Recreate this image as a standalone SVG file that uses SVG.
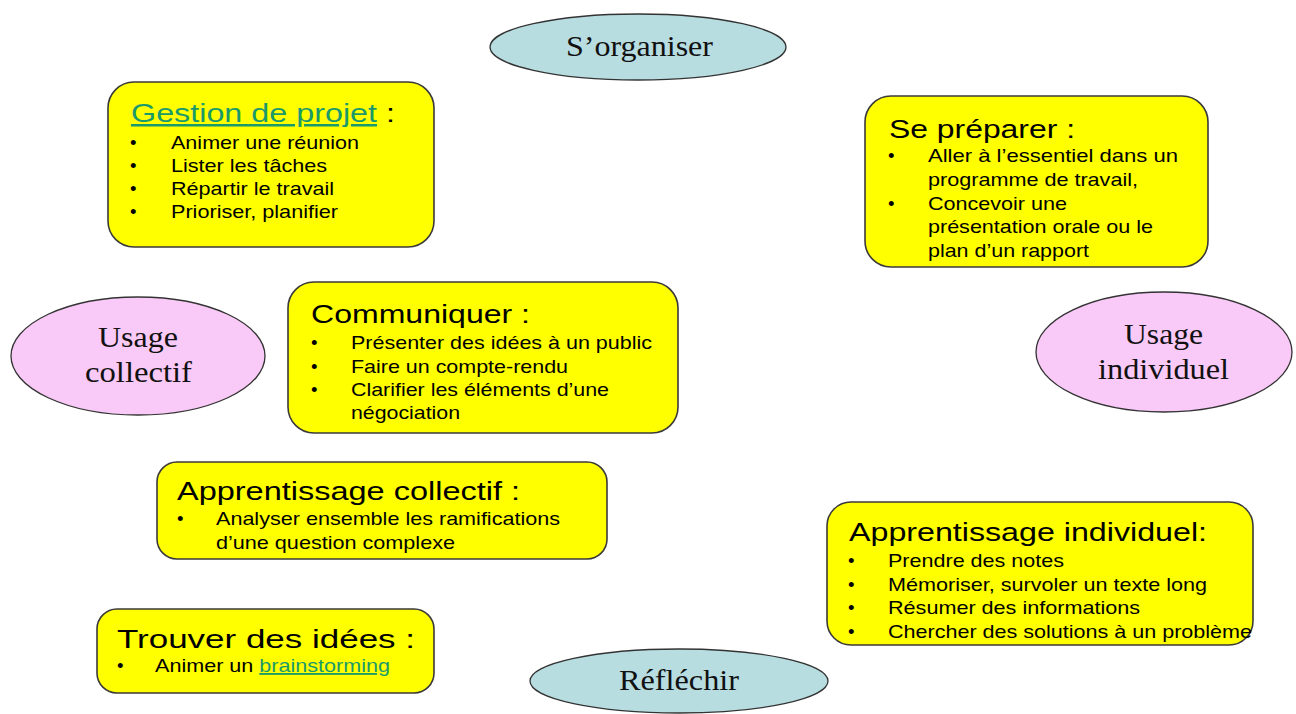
<svg xmlns="http://www.w3.org/2000/svg" width="1296" height="714" viewBox="0 0 1296 714">
<style>
.box{fill:#ffff00;stroke:#3a3a3a;stroke-width:1.6}
.ell-b{fill:#b7dde1;stroke:#333;stroke-width:1.3}
.ell-p{fill:#f9c9f7;stroke:#333;stroke-width:1.3}
.et{font-family:"Liberation Serif",serif;font-size:30px;fill:#111}
.ti{font-family:"Liberation Sans",sans-serif;font-size:25px;fill:#000}
.li{font-family:"Liberation Sans",sans-serif;font-size:18.5px;fill:#000}
.lk{fill:#1a9a6a;text-decoration:underline}
</style>
<rect width="1296" height="714" fill="#ffffff"/>
<g id="connectors"/>
<g id="sorganiser">
<ellipse class="ell-b" cx="638" cy="47" rx="148" ry="33"/>
<text class="et" x="566" y="56" textLength="147" lengthAdjust="spacingAndGlyphs">S’organiser</text>
</g>
<g id="gestion">
<rect class="box" x="108" y="82" width="326" height="165" rx="26"/>
<text class="ti" x="131" y="122" textLength="264" lengthAdjust="spacingAndGlyphs"><tspan class="lk">Gestion de projet</tspan> :</text>
<text class="li" x="130" y="149">•</text><text class="li" x="171" y="149" textLength="188" lengthAdjust="spacingAndGlyphs">Animer une réunion</text>
<text class="li" x="130" y="172">•</text><text class="li" x="171" y="172" textLength="156" lengthAdjust="spacingAndGlyphs">Lister les tâches</text>
<text class="li" x="130" y="195">•</text><text class="li" x="171" y="195" textLength="163" lengthAdjust="spacingAndGlyphs">Répartir le travail</text>
<text class="li" x="130" y="218">•</text><text class="li" x="171" y="218" textLength="167" lengthAdjust="spacingAndGlyphs">Prioriser, planifier</text>
</g>
<g id="preparer">
<rect class="box" x="865" y="96" width="343" height="171" rx="26"/>
<text class="ti" x="889" y="138" textLength="186" lengthAdjust="spacingAndGlyphs">Se préparer :</text>
<text class="li" x="888" y="162">•</text><text class="li" x="928" y="162" textLength="250" lengthAdjust="spacingAndGlyphs">Aller à l’essentiel  dans un</text>
<text class="li" x="928" y="186" textLength="210" lengthAdjust="spacingAndGlyphs">programme de travail,</text>
<text class="li" x="888" y="210">•</text><text class="li" x="928" y="210" textLength="139" lengthAdjust="spacingAndGlyphs">Concevoir une</text>
<text class="li" x="928" y="233" textLength="225" lengthAdjust="spacingAndGlyphs">présentation orale ou le</text>
<text class="li" x="928" y="257" textLength="161" lengthAdjust="spacingAndGlyphs">plan d’un rapport</text>
</g>
<g id="usage-collectif">
<ellipse class="ell-p" cx="138" cy="356" rx="127" ry="59"/>
<text class="et" x="98" y="347" textLength="80" lengthAdjust="spacingAndGlyphs">Usage</text>
<text class="et" x="85" y="382" textLength="107" lengthAdjust="spacingAndGlyphs">collectif</text>
</g>
<g id="usage-individuel">
<ellipse class="ell-p" cx="1164" cy="352" rx="128" ry="60"/>
<text class="et" x="1124" y="344" textLength="79" lengthAdjust="spacingAndGlyphs">Usage</text>
<text class="et" x="1098" y="379" textLength="131" lengthAdjust="spacingAndGlyphs">individuel</text>
</g>
<g id="communiquer">
<rect class="box" x="288" y="282" width="390" height="151" rx="26"/>
<text class="ti" x="311" y="323" textLength="219" lengthAdjust="spacingAndGlyphs">Communiquer :</text>
<text class="li" x="311" y="349">•</text><text class="li" x="351" y="349" textLength="301" lengthAdjust="spacingAndGlyphs">Présenter des idées à un public</text>
<text class="li" x="311" y="373">•</text><text class="li" x="351" y="373" textLength="217" lengthAdjust="spacingAndGlyphs">Faire un compte-rendu</text>
<text class="li" x="311" y="396">•</text><text class="li" x="351" y="396" textLength="258" lengthAdjust="spacingAndGlyphs">Clarifier les éléments d’une</text>
<text class="li" x="351" y="419" textLength="109" lengthAdjust="spacingAndGlyphs">négociation</text>
</g>
<g id="apprentissage-collectif">
<rect class="box" x="157" y="462" width="450" height="97" rx="20"/>
<text class="ti" x="177" y="500" textLength="343" lengthAdjust="spacingAndGlyphs">Apprentissage collectif :</text>
<text class="li" x="177" y="525">•</text><text class="li" x="216" y="525" textLength="344" lengthAdjust="spacingAndGlyphs">Analyser ensemble les ramifications</text>
<text class="li" x="216" y="549" textLength="239" lengthAdjust="spacingAndGlyphs">d’une question complexe</text>
</g>
<g id="apprentissage-individuel">
<rect class="box" x="827" y="502" width="426" height="143" rx="24"/>
<text class="ti" x="849" y="541" textLength="358" lengthAdjust="spacingAndGlyphs">Apprentissage individuel:</text>
<text class="li" x="848" y="567">•</text><text class="li" x="888" y="567" textLength="176" lengthAdjust="spacingAndGlyphs">Prendre des notes</text>
<text class="li" x="848" y="591">•</text><text class="li" x="888" y="591" textLength="319" lengthAdjust="spacingAndGlyphs">Mémoriser, survoler un texte long</text>
<text class="li" x="848" y="614">•</text><text class="li" x="888" y="614" textLength="252" lengthAdjust="spacingAndGlyphs">Résumer des informations</text>
<text class="li" x="848" y="638">•</text><text class="li" x="888" y="638" textLength="364" lengthAdjust="spacingAndGlyphs">Chercher des solutions à un problème</text>
</g>
<g id="trouver">
<rect class="box" x="97" y="609" width="337" height="84" rx="20"/>
<text class="ti" x="117" y="648" textLength="298" lengthAdjust="spacingAndGlyphs">Trouver des idées :</text>
<text class="li" x="117" y="672">•</text><text class="li" x="155" y="672" textLength="235" lengthAdjust="spacingAndGlyphs">Animer un <tspan class="lk">brainstorming</tspan></text>
</g>
<g id="reflechir">
<ellipse class="ell-b" cx="679" cy="681" rx="149" ry="32"/>
<text class="et" x="619" y="690" textLength="120" lengthAdjust="spacingAndGlyphs">Réfléchir</text>
</g>
</svg>
